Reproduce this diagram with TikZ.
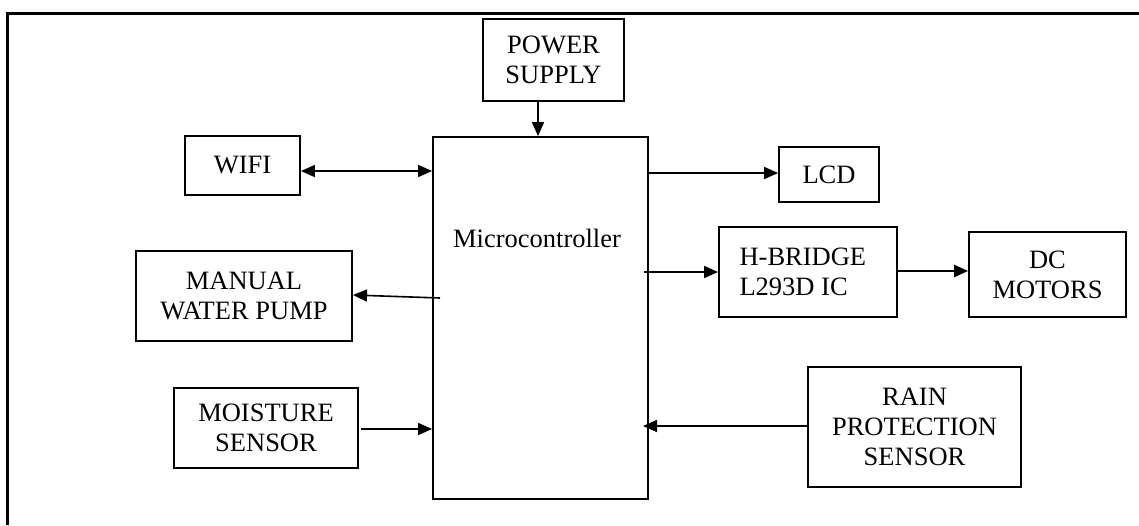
\documentclass[tikz,border=0pt]{standalone}
\usepackage{fontspec}
\setmainfont{Liberation Serif}
\usetikzlibrary{arrows.meta}
\tikzset{
  blk/.style={draw, line width=1.8pt, inner sep=0pt, align=center},
  arr/.style={line width=1.6pt, -{Triangle[length=14pt,width=12pt]}},
  darr/.style={line width=1.6pt, {Triangle[length=14pt,width=12pt]}-{Triangle[length=14pt,width=12pt]}},
  framel/.style={line width=3pt}
}
\begin{document}
\begin{tikzpicture}[x=1pt,y=-1pt,font=\fontsize{26.5}{30}\selectfont]
\useasboundingbox (0,0) rectangle (1139,525);
% frame
\coordinate (fbl) at (7,525);
\coordinate (ftl) at (7,13);
\coordinate (ftr) at (1139,13);
\draw[framel] (fbl) -- (ftl) -- (ftr);
% blocks
\node[blk, minimum width=141pt, minimum height=82pt] (power) at (553.5,60) {POWER\\SUPPLY};
\node[blk, minimum width=215pt, minimum height=362pt] (mc) at (540.5,318) {};
\node (mctext) at (537,238) {Microcontroller};
\node[blk, minimum width=115pt, minimum height=59pt] (wifi) at (242.5,165.5) {WIFI};
\node[blk, minimum width=216pt, minimum height=90pt] (pump) at (244,296) {MANUAL\\WATER PUMP};
\node[blk, minimum width=184pt, minimum height=80pt] (moist) at (266,428) {MOISTURE\\SENSOR};
\node[blk, minimum width=100pt, minimum height=55pt] (lcd) at (829,174.5) {LCD};
\node[blk, minimum width=178pt, minimum height=90pt] (hb) at (808,272) {};
\node[anchor=west, align=left] (hbtext) at (736,272) {H-BRIDGE\\L293D IC};
\node[blk, minimum width=157pt, minimum height=85pt] (dc) at (1047.5,274.5) {DC\\MOTORS};
\node[blk, minimum width=213pt, minimum height=120pt] (rain) at (914.5,427) {RAIN\\PROTECTION\\SENSOR};
% helper coordinates
\coordinate (pwrx) at (538,0);
\coordinate (wifiy) at (0,171);
\coordinate (lcdy) at (0,173);
\coordinate (hby) at (0,272);
\coordinate (hbsrc) at (644,272);
\coordinate (dcy) at (0,271);
\coordinate (rainy) at (0,426);
\coordinate (raintip) at (643,426);
\coordinate (moisty) at (0,429);
\coordinate (moistsrc) at (361,429);
\coordinate (pumpsrc) at (440,298);
\coordinate (pumptip) at (353,295);
% connectors
\draw[arr] (power.south -| pwrx) -- (mc.north -| pwrx);
\draw[darr] (wifi.east |- wifiy) -- (mc.west |- wifiy);
\draw[arr] (mc.east |- lcdy) -- (lcd.west |- lcdy);
\draw[arr] (hbsrc) -- (hb.west |- hby);
\draw[arr, line width=2.4pt] (hb.east |- dcy) -- (dc.west |- dcy);
\draw[arr] (rain.west |- rainy) -- (raintip);
\draw[arr] (moistsrc) -- (mc.west |- moisty);
\draw[arr] (pumpsrc) -- (pumptip);
\end{tikzpicture}
\end{document}
